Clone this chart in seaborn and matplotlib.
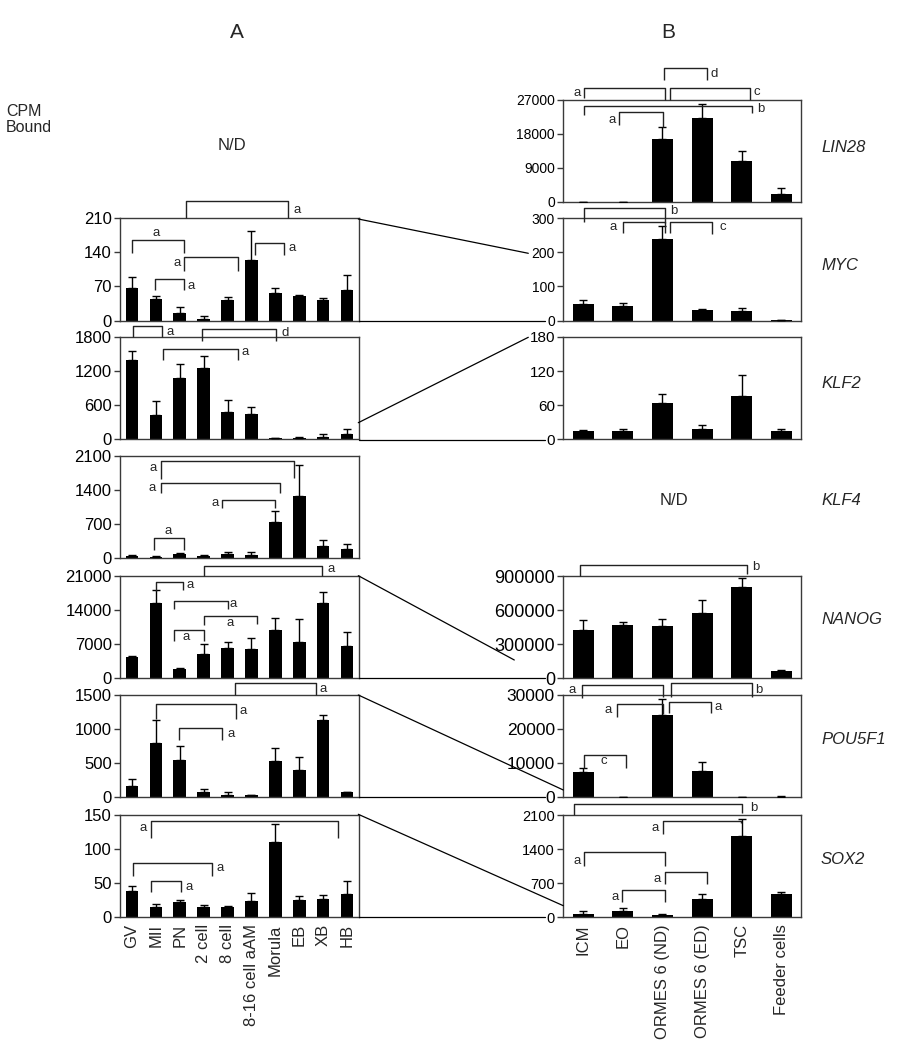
import numpy as np
import pandas as pd
import matplotlib
matplotlib.use("Agg")
import matplotlib.pyplot as plt
from matplotlib.lines import Line2D
import seaborn as sns

sns.set_theme(style="white")
plt.rcParams["font.family"] = ["Liberation Sans", "DejaVu Sans"]

# ---------------- data ----------------
stages = ["GV", "MII", "PN", "2 cell", "8 cell", "8-16 cell aAM", "Morula", "EB", "XB", "HB"]
cells = ["ICM", "EO", "ORMES 6 (ND)", "ORMES 6 (ED)", "TSC", "Feeder cells"]

# Panel A (embryo stages)
a_myc = [67.7, 44.5, 15, 4, 42.4, 123.8, 56, 50, 42.4, 63.6]
a_myc_err = [22, 6, 12, 5.6, 6, 61, 11.7, 2.7, 4, 29.4]
a_klf2 = [1398, 425, 1083, 1252, 478, 443, 17, 23, 47, 93]
a_klf2_err = [157, 239, 239, 221, 204, 122, 5, 18, 46, 87]
a_klf4 = [54, 34, 88, 54, 88, 68, 741, 1284, 258, 183]
a_klf4_err = [7, 5, 28, 7, 48, 68, 224, 639, 116, 102]
a_nanog = [4432, 15477, 1977, 5045, 6205, 6000, 9886, 7568, 15477, 6750]
a_nanog_err = [273, 2591, 205, 1978, 1227, 2318, 2455, 4637, 2182, 2727]
a_pou5f1 = [167, 789, 539, 83, 39, 25, 525, 402, 1137, 69]
a_pou5f1_err = [103, 338, 216, 40, 35, 4, 196, 181, 64, 14]
a_sox2 = [38.7, 15.2, 22, 15.2, 15.2, 24, 109.8, 25, 26.5, 34.3]
a_sox2_err = [7.3, 4.4, 3.5, 3, 1.5, 11.3, 26.5, 6.4, 5.9, 18.7]

# Panel B (cell types)
b_lin28 = [50, 50, 16500, 22235, 10765, 2029]
b_lin28_err = [0, 0, 3353, 3530, 2647, 1589]
b_myc = [49, 43, 238, 29.4, 26.5, 1]
b_myc_err = [9.8, 9.8, 40, 4, 9.8, 0]
b_klf2 = [14.1, 14.1, 64.1, 17.6, 75.9, 14.1]
b_klf2_err = [2.4, 4.1, 15.3, 7.1, 37, 4.1]
b_nanog = [424918, 466229, 460328, 575410, 808525, 64918]
b_nanog_err = [85574, 29509, 59016, 118033, 79672, 5000]
b_pou5f1 = [7475, 100, 24197, 7770, 60, 197]
b_pou5f1_err = [984, 0, 4721, 2656, 0, 100]
b_sox2 = [75, 137, 55, 371, 1675, 467]
b_sox2_err = [55, 62, 14, 103, 336, 48]

# significance brackets: (x1, x2, y, leg1, leg2, letter, letter_x, letter_y)
br_a_myc = [(2.25, 6.55, 245.6, 210, 210, "a", 6.9, 227),
            (0.0, 2.19, 165.5, 138, 138, "a", 1.03, 179),
            (2.18, 4.43, 130, 102.6, 102.6, "a", 1.87, 119),
            (0.98, 2.19, 85.5, 63, 63, "a", 2.49, 71.8),
            (5.15, 6.38, 160, 134.8, 134.8, "a", 6.70, 148)]
br_a_klf2 = [(0.06, 1.27, 1986, 1800, 1800, "a", 1.59, 1887),
             (2.95, 6.03, 1946, 1730, 1730, "d", 6.41, 1876),
             (1.31, 4.43, 1596, 1392, 1392, "a", 4.73, 1538)]
br_a_klf4 = [(1.21, 6.77, 1998, 1624, 1650, "a", 0.89, 1862),
             (1.21, 6.2, 1543, 1332, 1332, "a", 0.84, 1448),
             (3.78, 6.0, 1189, 1026, 1026, "a", 3.48, 1142),
             (0.92, 2.17, 408, 177, 177, "a", 1.52, 550)]
br_a_nanog = [(3.02, 7.97, 23114, 21000, 21000, "a", 8.32, 22432),
              (1.02, 2.15, 19909, 17864, 18200, "a", 2.43, 19227),
              (1.77, 4.01, 15955, 14318, 14318, "a", 4.24, 15273),
              (3.0, 5.22, 12886, 11045, 11200, "a", 4.1, 11386),
              (1.77, 3.02, 10023, 7636, 7636, "a", 2.26, 8523)]
br_a_pou5f1 = [(4.33, 7.69, 1672, 1500, 1500, "a", 8.01, 1583),
               (0.99, 4.37, 1363, 1142, 1152, "a", 4.66, 1270),
               (1.97, 3.76, 1010, 838, 838, "a", 4.13, 926)]
br_a_sox2 = [(0.80, 8.64, 140.7, 115.7, 116.7, "a", 0.45, 131.4),
             (0.03, 3.36, 79.9, 60.3, 60.3, "a", 3.71, 71.6),
             (0.80, 2.04, 52.9, 36.8, 36.8, "a", 2.40, 43.6)]
br_b_lin28 = [(2.05, 3.12, 35294, 32206, 32206, "d", 3.31, 33706),
              (0.03, 2.07, 30176, 27529, 26912, "a", -0.16, 28676),
              (2.19, 4.21, 30176, 26912, 26912, "c", 4.37, 28941),
              (0.03, 4.25, 25412, 22941, 23400, "b", 4.48, 24529),
              (0.91, 2.01, 23647, 20294, 19853, "a", 0.73, 21618)]
br_b_myc = [(0.03, 2.07, 331, 288, 285, "b", 2.29, 320),
            (1.0, 2.07, 288, 256, 256, "a", 0.75, 275.5),
            (2.19, 3.26, 288, 256, 254, "c", 3.51, 275.5)]
br_b_klf2 = []
br_b_nanog = [(-0.09, 4.14, 997377, 900000, 917705, "b", 4.36, 976721)]
br_b_pou5f1 = [(-0.02, 2.01, 33049, 29016, 29500, "a", -0.28, 31475),
               (2.22, 4.25, 33443, 29508, 29508, "b", 4.44, 31475),
               (0.86, 2.01, 27344, 23607, 24295, "a", 0.64, 25574),
               (2.17, 3.22, 28033, 24590, 24590, "a", 3.41, 26557),
               (0.01, 1.08, 12295, 8656, 8656, "c", 0.53, 10525)]
br_b_sox2 = [(-0.23, 4.0, 2326, 2100, 2134, "b", 4.31, 2251),
             (2.01, 3.98, 1976, 1702, 1928, "a", 1.81, 1825),
             (0.03, 2.07, 1331, 1057, 1057, "a", -0.16, 1160),
             (2.07, 3.12, 933, 679, 679, "a", 1.86, 775),
             (0.97, 2.07, 556, 316, 316, "a", 0.81, 419)]

genes = ["LIN28", "MYC", "KLF2", "KLF4", "NANOG", "POU5F1", "SOX2"]

# ---------------- layout ----------------
W, H = 897, 1050
fig = plt.figure(figsize=(W / 100, H / 100), dpi=100)

tops = [99.7, 218.3, 337, 456, 576.2, 695, 815]
ph = 102.2
LX, LW = 120, 239
RX, RW = 563.3, 238
SPINE = "#3a3a3a"


def fx(x):
    return x / W


def fy(y):
    return 1 - y / H


def make_ax(left, width, row):
    top = tops[row]
    return fig.add_axes([fx(left), fy(top + ph), width / W, ph / H])


def draw_panel(ax, cats, vals, errs, ymax, step, brackets, tsize, bottom):
    df = pd.DataFrame({"cat": cats, "val": vals})
    sns.barplot(data=df, x="cat", y="val", color="black", saturation=1,
                width=0.53, errorbar=None, ax=ax, order=cats,
                linewidth=0, edgecolor="black")
    n = len(cats)
    ax.errorbar(np.arange(n), vals, yerr=[np.zeros(n), errs], fmt="none",
                ecolor="black", elinewidth=1.0, capsize=2.6, capthick=1.0,
                zorder=3)
    ax.set_xlim(-0.5, n - 0.5)
    ax.set_ylim(0, ymax)
    ax.set_yticks(np.arange(0, ymax + step / 2, step))
    ax.set_xlabel("")
    ax.set_ylabel("")
    for s in ax.spines.values():
        s.set_color(SPINE)
        s.set_linewidth(1.0)
    ax.tick_params(axis="y", direction="out", length=4, width=1, pad=2,
                   labelsize=tsize, colors="black", color=SPINE, left=True)
    ax.tick_params(axis="x", length=0, pad=5, labelsize=12)
    if bottom:
        ax.set_xticks(np.arange(n))
        ax.set_xticklabels(cats, rotation=90, va="top", ha="center")
    else:
        ax.set_xticklabels([])
    for x1, x2, y, l1, l2, let, lx, ly in brackets:
        ax.plot([x1, x1, x2, x2], [l1, y, y, l2], color="#222222", lw=1.0,
                clip_on=False, solid_capstyle="butt", zorder=4)
        ax.text(lx, ly, let, ha="center", va="center", fontsize=9.5,
                clip_on=False)


# Panel A (left)
left_specs = [
    (1, a_myc, a_myc_err, 210, 70, br_a_myc),
    (2, a_klf2, a_klf2_err, 1800, 600, br_a_klf2),
    (3, a_klf4, a_klf4_err, 2100, 700, br_a_klf4),
    (4, a_nanog, a_nanog_err, 21000, 7000, br_a_nanog),
    (5, a_pou5f1, a_pou5f1_err, 1500, 500, br_a_pou5f1),
    (6, a_sox2, a_sox2_err, 150, 50, br_a_sox2),
]
for row, v, e, ym, st, br in left_specs:
    ax = make_ax(LX, LW, row)
    draw_panel(ax, stages, v, e, ym, st, br, 12, row == 6)

# Panel B (right)
right_specs = [
    (0, b_lin28, b_lin28_err, 27000, 9000, br_b_lin28, 10),
    (1, b_myc, b_myc_err, 300, 100, br_b_myc, 10),
    (2, b_klf2, b_klf2_err, 180, 60, br_b_klf2, 11),
    (4, b_nanog, b_nanog_err, 900000, 300000, br_b_nanog, 13),
    (5, b_pou5f1, b_pou5f1_err, 30000, 10000, br_b_pou5f1, 12.5),
    (6, b_sox2, b_sox2_err, 2100, 700, br_b_sox2, 10.5),
]
for row, v, e, ym, st, br, ts in right_specs:
    ax = make_ax(RX, RW, row)
    draw_panel(ax, cells, v, e, ym, st, br, ts, row == 6)

# connector lines between panels
def fline(x1, y1, x2, y2):
    fig.add_artist(Line2D([fx(x1), fx(x2)], [fy(y1), fy(y2)],
                          transform=fig.transFigure, color="black", lw=0.9))

conn = [((358.3, 219), (528.3, 253.3), 320.5),
        ((358.3, 422.7), (528.3, 337.3), 439.7),
        ((358.3, 575.7), (514.3, 660), 678),
        ((358.3, 695), (563.3, 790), 797),
        ((358.3, 814.3), (563.3, 905.7), 917)]
for (x1, y1), (x2, y2), yb in conn:
    fline(x1, y1, x2, y2)
    fline(359, yb, 545, yb)

# texts
fig.text(fx(237), fy(32), "A", ha="center", va="center", fontsize=15)
fig.text(fx(668), fy(32), "B", ha="center", va="center", fontsize=15)
fig.text(fx(6), fy(111), "CPM", ha="left", va="center", fontsize=11.5)
fig.text(fx(6), fy(127), "Bound", ha="left", va="center", fontsize=11.5)
fig.text(fx(232), fy(145), "N/D", ha="center", va="center", fontsize=12)
fig.text(fx(673.7), fy(500.7), "N/D", ha="center", va="center", fontsize=12)

gene_y = [147, 265, 383, 500.7, 620, 740, 860]
for g, gy in zip(genes, gene_y):
    fig.text(fx(821), fy(gy), g, ha="left", va="center", fontsize=12,
             style="italic")

fig.savefig("out.png", dpi=100)
